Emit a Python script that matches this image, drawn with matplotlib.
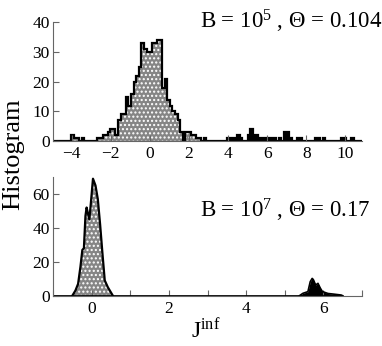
import matplotlib
matplotlib.use('Agg')
import numpy as np
import matplotlib.pyplot as plt

plt.rcParams['font.family'] = ['Liberation Serif', 'DejaVu Serif']
plt.rcParams['mathtext.fontset'] = 'custom'
plt.rcParams['mathtext.rm'] = 'Liberation Serif'
plt.rcParams['mathtext.it'] = 'Liberation Serif:italic'
plt.rcParams['hatch.linewidth'] = 1.0

# ---------------- data: top panel (B = 1e5) ----------------
bin_width = 0.1325
bin_origin = -0.43
first_bin, last_bin = -34, 84
cluster_first = -27
cluster_counts = [2, 1, 1, 0, 1,
                  0, 0, 0, 0, 0,
                  1, 1, 2, 2, 3,
                  4, 4, 2, 7, 9, 9, 15, 12, 16, 20, 22, 25,
                  33, 31, 30, 30, 33, 33, 34, 34,
                  18, 21, 14, 12, 10, 9, 7, 3, 0, 3, 3, 2, 2, 1, 1]
outlier_bins = [24, 33, 34, 35, 36, 37, 38, 41, 42, 43, 44, 45, 46, 47, 49,
                50, 51, 53, 55, 56, 57, 60, 61, 67, 68, 70, 77, 78, 81]
outlier_counts = [1, 1, 1, 1, 1, 2, 1, 2, 4, 2, 2, 1, 1, 1, 1,
                  1, 1, 1, 3, 3, 1, 1, 1, 1, 1, 1, 1, 1, 1]

# ---------------- data: bottom panel (B = 1e7) ----------------
peak_x = [-0.5, -0.42, -0.35, -0.29, -0.24, -0.20, -0.16, -0.13, -0.10, -0.06,
          -0.03, 0.035, 0.10, 0.16, 0.22, 0.28, 0.34, 0.42, 0.55]
peak_y = [0, 3, 7, 17, 27, 28, 47, 52, 49, 45,
          52, 69, 65, 57, 42, 25, 9, 5, 0]
side_x = [5.38, 5.47, 5.6, 5.66, 5.71, 5.74, 5.8, 5.86, 5.92, 5.97, 6.03,
          6.12, 6.24, 6.46, 6.5]
side_y = [0, 1.4, 2.4, 8.3, 10.2, 9.5, 6.3, 7.3, 4.5, 2.6, 2,
          1.3, 1, 0.4, 0]

top_label = 'B = 10$^{5}$ , Θ = 0.104'
bot_label = 'B = 10$^{7}$ , Θ = 0.17'

# ---------------- figure ----------------
W, H = 382, 346
fig = plt.figure(figsize=(W / 100, H / 100), dpi=100)

hatch_face = '#858585'
spine_col = '#666666'


def style(ax):
    for s in ('top', 'right'):
        ax.spines[s].set_visible(False)
    for s in ('left', 'bottom'):
        ax.spines[s].set_color(spine_col)
        ax.spines[s].set_linewidth(0.8)
    ax.tick_params(which='both', direction='in', color=spine_col, width=0.8,
                   labelsize=12.5, pad=2.5)
    ax.tick_params(which='major', length=4)
    ax.tick_params(which='minor', length=4)


ax1 = fig.add_axes([53 / W, (H - 141.3) / H, 309 / W, 119.3 / H])
edges = bin_origin + bin_width * np.arange(first_bin, last_bin + 2)
n = len(edges) - 1
hatched = np.zeros(n)
start = cluster_first - first_bin
hatched[start:start + len(cluster_counts)] = cluster_counts
black = np.zeros(n)
black[np.array(outlier_bins) - first_bin] = outlier_counts

ax1.stairs(hatched, edges, fill=True, facecolor=hatch_face, edgecolor='white',
           hatch='....', linewidth=0)
ax1.stairs(black, edges, fill=True, facecolor='black', edgecolor='black',
           linewidth=0)
ax1.stairs(hatched + black, edges, color='black', linewidth=1.6)
ax1.set_xlim(-4.95, 10.85)
ax1.set_ylim(0, 40)
ax1.set_xticks(np.arange(-4, 11, 2))
ax1.set_yticks(np.arange(0, 41, 10))
style(ax1)
ax1.tick_params(axis='x', pad=3.5)

ax2 = fig.add_axes([53 / W, (H - 295.7) / H, 309 / W, 118.7 / H])
ax2.fill_between(peak_x, peak_y, facecolor=hatch_face, edgecolor='white',
                 hatch='....', linewidth=0)
ax2.fill_between(side_x, side_y, facecolor='black', edgecolor='black',
                 linewidth=0)
ax2.hlines(0, -1, side_x[-1], color='black', linewidth=2.0)
ax2.plot(peak_x, peak_y, color='black', linewidth=1.6)
ax2.plot(side_x, side_y, color='black', linewidth=1.2)
ax2.set_xlim(-1, 7)
ax2.set_ylim(0, 70)
ax2.set_xticks([0, 2, 4, 6])
ax2.set_xticks([-1, 1, 3, 5, 7], minor=True)
ax2.set_yticks([0, 20, 40, 60])
style(ax2)
ax2.tick_params(axis='x', pad=3.5)

fig.text(200 / W, (H - 28.5) / H, top_label, fontsize=16.5, ha='left',
         va='baseline')
fig.text(200 / W, (H - 218) / H, bot_label, fontsize=16.5, ha='left',
         va='baseline')
fig.text(13 / W, (H - 154) / H, 'Histogram', fontsize=19, rotation=90,
         ha='center', va='center')
fig.text(191 / W, (H - 338) / H, r'J$^{\mathrm{inf}}$', fontsize=17,
         ha='left', va='baseline')

fig.savefig('out.png', dpi=100)
